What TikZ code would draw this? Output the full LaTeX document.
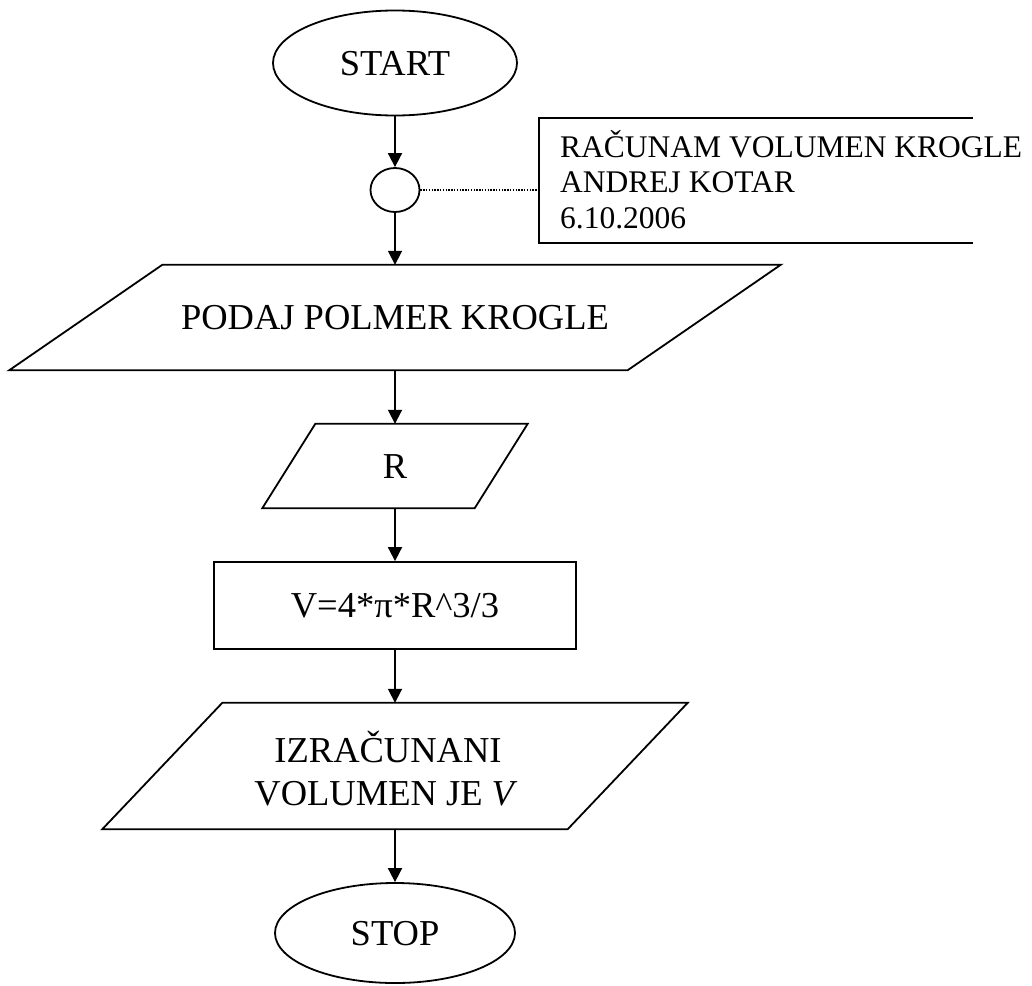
\documentclass[tikz,border=0pt]{standalone}
\usepackage{fontspec}
\setmainfont{Liberation Serif}
\usetikzlibrary{shapes.geometric,arrows.meta}
\begin{document}
\begin{tikzpicture}[x=1pt,y=-1pt,
  line/.style={line width=1.8pt},
  big/.style={font=\fontsize{36.5}{43}\selectfont},
  small/.style={font=\fontsize{31.5}{35}\selectfont},
  term/.style={ellipse, draw, line width=1.8pt, inner sep=0pt, big, text height=24pt, text depth=0pt},
  frame/.style={rectangle, inner sep=0pt, big, text height=24pt, text depth=0pt},
  arr/.style={line width=1.8pt, -{Triangle[length=14pt,width=14pt]}},
  note/.style={dash pattern=on 1.4pt off 1.4pt, line width=1.1pt}]
\useasboundingbox (0,0) rectangle (1032,985);

% terminals and connector
\node[term, minimum width=244pt, minimum height=105pt] (start) at (395,63) {START};
\node[ellipse, draw, line width=1.8pt, minimum width=49pt, minimum height=44pt, inner sep=0pt] (conn) at (395,190) {};

% annotation
\node[frame, minimum width=434pt, minimum height=125pt] (ann) at (756,180.5) {};
\draw[line] (ann.north east) -- (ann.north west) -- (ann.south west) -- (ann.south east);
\node[small, anchor=base west, inner sep=0pt] (t1) at (560,157) {RAČUNAM VOLUMEN KROGLE};
\node[small, anchor=base west, inner sep=0pt] (t2) at (560,192) {ANDREJ KOTAR};
\node[small, anchor=base west, inner sep=0pt] (t3) at (560,228) {6.10.2006};
\draw[note] (conn.east) -- (conn.east -| ann.west);

% input prompt
\node[frame, minimum width=771pt, minimum height=105pt] (p1) at (395,317.5) {PODAJ POLMER KROGLE};
\draw[line] ([xshift=153pt]p1.north west) -- (p1.north east) -- ([xshift=-153pt]p1.south east) -- (p1.south west) -- cycle;

% input R
\node[frame, minimum width=265pt, minimum height=84pt] (p2) at (395,466) {R};
\draw[line] ([xshift=53pt]p2.north west) -- (p2.north east) -- ([xshift=-53pt]p2.south east) -- (p2.south west) -- cycle;

% process
\node[frame, draw, line width=1.8pt, minimum width=362pt, minimum height=87pt] (calc) at (395,605.5) {V=4*π*R\textasciicircum 3/3};

% output
\node[frame, minimum width=585pt, minimum height=126pt] (p3) at (395,766) {};
\draw[line] ([xshift=120pt]p3.north west) -- (p3.north east) -- ([xshift=-120pt]p3.south east) -- (p3.south west) -- cycle;
\node[big, anchor=base, inner sep=0pt] (l1) at (388,762) {IZRAČUNANI};
\node[big, anchor=base, inner sep=0pt] (l2) at (386,805) {VOLUMEN JE \textit{V}};

\node[term, minimum width=240pt, minimum height=100pt] (stop) at (395,933) {STOP};

% flow
\draw[arr] (start) -- (conn);
\draw[arr] (conn) -- (p1);
\draw[arr] (p1) -- (p2);
\draw[arr] (p2) -- (calc);
\draw[arr] (calc) -- (p3);
\draw[arr] (p3) -- (stop);
\end{tikzpicture}
\end{document}
